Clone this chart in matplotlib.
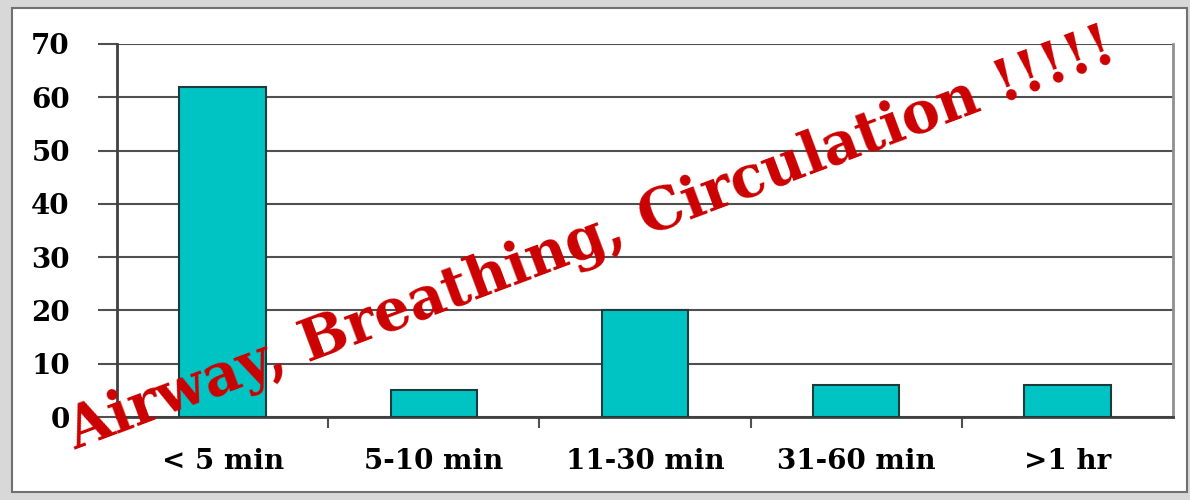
import matplotlib
matplotlib.use("Agg")
from matplotlib import pyplot as plt
from matplotlib.patches import Rectangle
import numpy as np

categories = ["< 5 min", "5-10 min", "11-30 min", "31-60 min", ">1 hr"]
counts = [62, 5, 20, 6, 6]
yticks = [0, 10, 20, 30, 40, 50, 60, 70]
stamp = "Airway, Breathing, Circulation !!!!!"

# wide bold serif, the original looks like stretched Times
plt.rcParams['font.family'] = ['DejaVu Serif', 'Liberation Serif']

fig = plt.figure(figsize=(11.9, 5.0), dpi=100)
fig.patch.set_facecolor('#d8d8d8')

# white panel with a thin gray border
panel = Rectangle((12/1190, 8/500), 1175/1190, 484/500, transform=fig.transFigure,
                  facecolor='white', edgecolor='#707070', linewidth=1.5, zorder=-5)
fig.patches.append(panel)

ax = fig.add_axes([117/1190, 83/500, (1173-117)/1190, (417-44)/500])
ax.set_facecolor('white')

x = np.arange(len(categories))
ax.bar(x, counts, width=0.41, color='#00c4c4', edgecolor='#1c3c3c', linewidth=1.5, zorder=3)

ax.set_xlim(-0.5, len(categories) - 0.5)
ax.set_ylim(0, 70)
ax.set_yticks(yticks)
ax.set_yticklabels([str(v) for v in yticks], fontsize=20, fontweight='bold')
ax.yaxis.grid(True, color='#505050', linewidth=1.5, zorder=1)
ax.set_axisbelow(True)
ax.tick_params(axis='y', length=14, width=1.5, color='#505050', pad=20)

# category labels centered, tick marks between categories
ax.set_xticks(x)
ax.set_xticklabels(categories, fontsize=20, fontweight='bold')
ax.tick_params(axis='x', length=0, pad=22)
ax.set_xticks(np.arange(0.5, len(categories) - 0.5, 1), minor=True)
ax.tick_params(axis='x', which='minor', length=8, width=1.5, color='#505050')

for side in ['left', 'bottom']:
    ax.spines[side].set_color('#404040')
    ax.spines[side].set_linewidth(2)
ax.spines['top'].set_visible(False)
ax.spines['right'].set_color('#909090')
ax.spines['right'].set_linewidth(2)

fig.text(0.497, 0.52, stamp, rotation=20.5, rotation_mode='anchor',
         ha='center', va='center', fontsize=41, fontweight='bold',
         color='#cc0000', zorder=10)

fig.savefig("out.png", dpi=100, facecolor=fig.get_facecolor())
